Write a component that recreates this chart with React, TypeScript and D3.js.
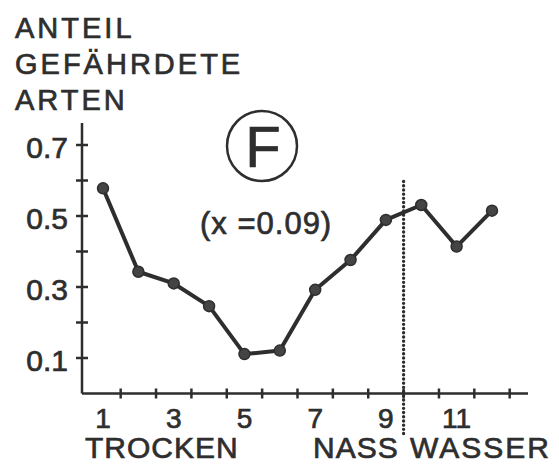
import React from "react";
import * as d3 from "d3";

const sites = [1, 2, 3, 4, 5, 6, 7, 8, 9, 10, 11, 12];
const shares = [0.578, 0.343, 0.31, 0.246, 0.111, 0.121, 0.292, 0.376, 0.489, 0.531, 0.414, 0.515];
const yTicks = [0.1, 0.2, 0.3, 0.4, 0.5, 0.6, 0.7];
const yLabels = [0.1, 0.3, 0.5, 0.7];
const xTicks = [1.5, 2.5, 3.5, 4.5, 5.5, 6.5, 7.5, 8.5, 9.5, 10.5, 11.5, 12.5];
const xLabels = [1, 3, 5, 7, 9, 11];
const titleLines = ["ANTEIL", "GEFÄHRDETE", "ARTEN"];
const divider = 9.5;
const dividerTop = 0.597;

const W = 559;
const H = 465;
const INK = "#2e2e2e";
const FONT = "'Liberation Sans', Arial, sans-serif";

export default function App() {
  const x = d3.scaleLinear().domain([1, 12]).range([103, 492]);
  const y = d3.scaleLinear().domain([0, 0.7]).range([393.5, 145]);
  const axisY = y(0);
  const axisX = 82;
  const line = d3
    .line<number>()
    .x((_, i) => x(sites[i]))
    .y((d) => y(d));

  const textStyle = { fill: INK, stroke: INK, strokeWidth: 0.7 };

  return (
    <svg
      width={W}
      height={H}
      style={{ position: "absolute", left: 0, top: 0, background: "#fff" }}
      fontFamily={FONT}
    >
      {titleLines.map((t, i) => (
        <text key={t} x={15} y={38 + i * 36} fontSize={29} letterSpacing={3} {...textStyle}>
          {t}
        </text>
      ))}

      {/* axes */}
      <line x1={axisX} x2={axisX} y1={123} y2={axisY} stroke={INK} strokeWidth={2.5} />
      <line x1={axisX} x2={528} y1={axisY} y2={axisY} stroke={INK} strokeWidth={2.5} />
      {yTicks.map((t) => (
        <line key={t} x1={axisX - 6} x2={axisX + 6} y1={y(t)} y2={y(t)} stroke={INK} strokeWidth={2.5} />
      ))}
      {yLabels.map((t) => (
        <text key={t} x={68} y={y(t) + 13} fontSize={30} textAnchor="end" {...textStyle}>
          {t.toFixed(1)}
        </text>
      ))}
      {xTicks.map((t) => (
        <line key={t} x1={x(t)} x2={x(t)} y1={axisY - 5} y2={axisY + 5} stroke={INK} strokeWidth={2.5} />
      ))}
      {xLabels.map((t) => (
        <text key={t} x={x(t)} y={428} fontSize={28} textAnchor="middle" {...textStyle}>
          {t}
        </text>
      ))}

      {/* divider */}
      <line
        x1={x(divider)}
        x2={x(divider)}
        y1={y(dividerTop)}
        y2={436}
        stroke={INK}
        strokeWidth={3.4}
        strokeDasharray="0 4.2"
        strokeLinecap="round"
      />

      {/* series */}
      <path d={line(shares) || ""} fill="none" stroke={INK} strokeWidth={4} strokeLinejoin="round" />
      {shares.map((v, i) => (
        <circle key={i} cx={x(sites[i])} cy={y(v)} r={5.5} fill="#444" stroke={INK} strokeWidth={1.5} />
      ))}

      {/* annotations */}
      <circle cx={262} cy={146} r={35} fill="none" stroke={INK} strokeWidth={2.5} />
      <text x={263} y={167} fontSize={58} textAnchor="middle" {...textStyle}>
        F
      </text>
      <text x={200} y={234} fontSize={31} letterSpacing={1} {...textStyle}>
        (x =0.09)
      </text>

      <text x={85} y={458} fontSize={30} letterSpacing={1} {...textStyle}>
        TROCKEN
      </text>
      <text x={313} y={458} fontSize={30} letterSpacing={1} {...textStyle}>
        NASS
      </text>
      <text x={410} y={458} fontSize={30} letterSpacing={2} {...textStyle}>
        WASSER
      </text>
    </svg>
  );
}
